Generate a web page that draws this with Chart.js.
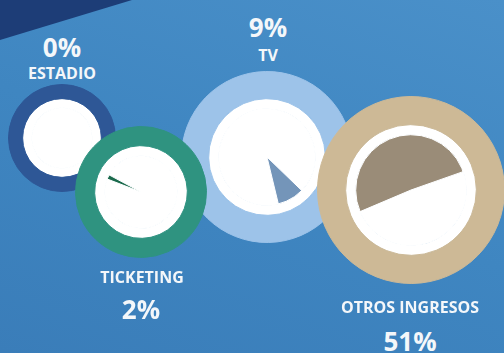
<!DOCTYPE html>
<html>
<head>
<meta charset="utf-8">
<script src="https://cdn.jsdelivr.net/npm/chart.js@4"></script>
<style>
  html, body { margin: 0; padding: 0; }
  body { width: 504px; height: 353px; overflow: hidden; }
  #wrap {
    position: relative; width: 504px; height: 353px; overflow: hidden;
    background: linear-gradient(200deg, #4a90c9 0%, #3f86c1 50%, #3a7db9 100%);
    font-family: "Open Sans", sans-serif; color: #f4f7fa;
  }
  #corner {
    position: absolute; left: 0; top: 0; width: 504px; height: 353px;
    background: #1d3d77;
    clip-path: polygon(0 0, 132px 0, 0 40px);
  }
  canvas { position: absolute; }
  .pct, .lbl { position: absolute; transform: translate(-50%, -50%); white-space: nowrap; font-weight: 700; }
  .pct { font-size: 26px; }
  .lbl { font-size: 16px; }
</style>
</head>
<body>
<div id="wrap">
  <div id="corner"></div>
</div>
<script>
// datos
const categorias = ['ESTADIO', 'TICKETING', 'TV', 'OTROS INGRESOS'];
const porcentajes = [0, 2, 9, 51];
const inicioGrados = [0, 291, 134, 247];

// colores
const coloresAro = ['#2e5796', '#2f9380', '#9dc3e9', '#cdb996'];
const coloresCuna = ['#24457e', '#1b6a4c', '#7495b9', '#9a8c78'];

// geometría de cada círculo: centro, radio exterior, radio blanco, radio de la cuña
const circulos = [
  {cx: 62, cy: 138, r: 53, blanco: 39, cuna: 30},
  {cx: 141, cy: 192, r: 65, blanco: 46, cuna: 36},
  {cx: 267, cy: 157, r: 85, blanco: 58, cuna: 48},
  {cx: 411, cy: 190, r: 93, blanco: 65, cuna: 55},
];
// posiciones de los textos [porcentaje, etiqueta]
const textos = [
  {pct: [62, 47], lbl: [62, 73]},
  {pct: [141, 309], lbl: [142, 277]},
  {pct: [268, 27], lbl: [268, 55]},
  {pct: [410, 341], lbl: [410, 307]},
];
// orden de dibujo (el último queda encima)
const orden = [0, 2, 1, 3];

const wrap = document.getElementById('wrap');

orden.forEach((i) => {
  const c = circulos[i];
  const canvas = document.createElement('canvas');
  canvas.width = c.r * 2 + 2;
  canvas.height = c.r * 2 + 2;
  canvas.style.left = (c.cx - c.r - 1) + 'px';
  canvas.style.top = (c.cy - c.r - 1) + 'px';
  canvas.style.width = c.r * 2 + 2 + 'px';
  canvas.style.height = c.r * 2 + 2 + 'px';
  wrap.appendChild(canvas);

  const p = porcentajes[i];
  new Chart(canvas.getContext('2d'), {
    type: 'doughnut',
    data: {
      labels: [categorias[i], 'resto'],
      datasets: [
        {data: [1], backgroundColor: [coloresAro[i]], borderColor: [coloresAro[i]], borderWidth: 1, weight: c.r - c.blanco},
        {data: [1], backgroundColor: ['#ffffff'], borderColor: ['#ffffff'], borderWidth: 1, weight: c.blanco - c.cuna},
        {
          data: [p, 100 - p],
          backgroundColor: [coloresCuna[i], '#ffffff'],
          borderColor: [p > 0 ? coloresCuna[i] : '#ffffff', '#ffffff'],
          borderWidth: 1,
          weight: c.cuna,
        },
      ],
    },
    options: {
      responsive: false,
      animation: false,
      cutout: 0,
      rotation: inicioGrados[i],
      layout: {padding: 0},
      plugins: {legend: {display: false}, tooltip: {enabled: false}},
      events: [],
    },
  });
});

// textos
categorias.forEach((cat, i) => {
  const p = document.createElement('div');
  p.className = 'pct';
  p.textContent = porcentajes[i] + '%';
  p.style.left = textos[i].pct[0] + 'px';
  p.style.top = textos[i].pct[1] + 'px';
  wrap.appendChild(p);

  const l = document.createElement('div');
  l.className = 'lbl';
  l.textContent = cat;
  l.style.left = textos[i].lbl[0] + 'px';
  l.style.top = textos[i].lbl[1] + 'px';
  wrap.appendChild(l);
});
</script>
</body>
</html>
